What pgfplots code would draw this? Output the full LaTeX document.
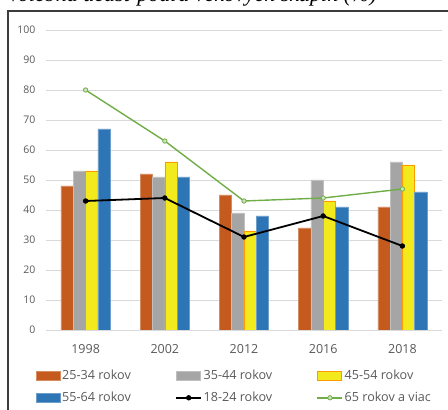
\documentclass[border=0pt]{standalone}
\usepackage{pgfplots}
\pgfplotsset{compat=1.18}
\usepackage{fontspec}
\setmainfont{Open Sans}
\newfontfamily\titlefont{Liberation Serif}

\definecolor{cOrange}{HTML}{C55A1E}
\definecolor{cGray}{HTML}{A5A5A5}
\definecolor{cYellow}{HTML}{F2EA1C}
\definecolor{cBlue}{HTML}{2E75B6}
\definecolor{cGreen}{HTML}{70AD47}
\definecolor{gridc}{HTML}{D9D9D9}
\definecolor{tickc}{HTML}{595959}
\definecolor{framec}{HTML}{3C3C3C}

\pgfplotsset{
  barleg/.style={legend image code/.code={\draw[##1] (0pt,-4.5pt) rectangle (24pt,4.5pt);}},
  lineleg/.style={legend image code/.code={\draw[mark repeat=2,mark phase=2,##1] plot coordinates {(0pt,0pt) (12.5pt,0pt) (25pt,0pt)};}},
}

\begin{document}
\begin{tikzpicture}[x=1pt,y=1pt]
\useasboundingbox (0,0) rectangle (448,410);
\begin{scope}
  \clip (0,0) rectangle (448,410);
  \node[anchor=base east, inner sep=0pt, font=\titlefont\itshape\fontsize{22}{24}\selectfont]
    at (377,408) {Volebná účasť podľa vekových skupín (\%)};
  \draw[framec, line width=1.4pt] (8,-2) -- (8,399) -- (452,399);
\end{scope}

\begin{axis}[
  at={(46pt,80pt)}, anchor=south west,
  scale only axis, width=396pt, height=300pt,
  xmin=-0.5, xmax=4.5, ymin=0, ymax=100,
  xtick={0,...,4}, xticklabels={1998,2002,2012,2016,2018},
  ytick={0,10,...,100},
  ymajorgrids, grid style={gridc, line width=0.8pt},
  axis line style={draw=none}, major tick length=0pt,
  /pgf/number format/assume math mode=true,
  yticklabel style={font=\fontsize{10.5}{12}\selectfont, text=tickc, xshift=-7pt},
  xticklabel style={font=\fontsize{12.5}{14}\selectfont, text=tickc, yshift=-11pt},
  legend columns=3, legend cell align=left,
  legend style={at={(-0.033,-0.12)}, anchor=north west, draw=none, fill=none,
    font=\fontsize{12.6}{14}\selectfont, text=tickc, row sep=7pt,
    nodes={inner xsep=1.5pt},
    /tikz/every even column/.append style={column sep=43pt}},
]
\addplot[ybar, bar width=12.3pt, bar shift=-18.45pt, fill=cOrange, draw=cOrange!70!white, line width=0.5pt, barleg]
  coordinates {(0,48) (1,52) (2,45) (3,34) (4,41)};
\addlegendentry{25-34 rokov}
\addplot[ybar, bar width=12.3pt, bar shift=-6.15pt, fill=cGray, draw=cGray!70!white, line width=0.5pt, barleg]
  coordinates {(0,53) (1,51) (2,39) (3,50) (4,56)};
\addlegendentry{35-44 rokov}
\addplot[ybar, bar width=12.3pt, bar shift=6.15pt, fill=cYellow, draw=orange!80!yellow, line width=0.5pt, barleg]
  coordinates {(0,53) (1,56) (2,33) (3,43) (4,55)};
\addlegendentry{45-54 rokov}
\addplot[ybar, bar width=12.3pt, bar shift=18.45pt, fill=cBlue, draw=cBlue!70!white, line width=0.5pt, barleg]
  coordinates {(0,67) (1,51) (2,38) (3,41) (4,46)};
\addlegendentry{55-64 rokov}
\addplot[black, line width=1.8pt, mark=*, mark size=2.4pt, mark options={line width=0.5pt}, lineleg]
  coordinates {(0,43) (1,44) (2,31) (3,38) (4,28)};
\addlegendentry{18-24 rokov}
\addplot[cGreen, line width=1.4pt, mark=*, mark size=2.2pt, mark options={fill=cGreen!35!white, line width=0.8pt}, lineleg]
  coordinates {(0,80) (1,63) (2,43) (3,44) (4,47)};
\addlegendentry{65 rokov a viac}
\end{axis}
\end{tikzpicture}
\end{document}
